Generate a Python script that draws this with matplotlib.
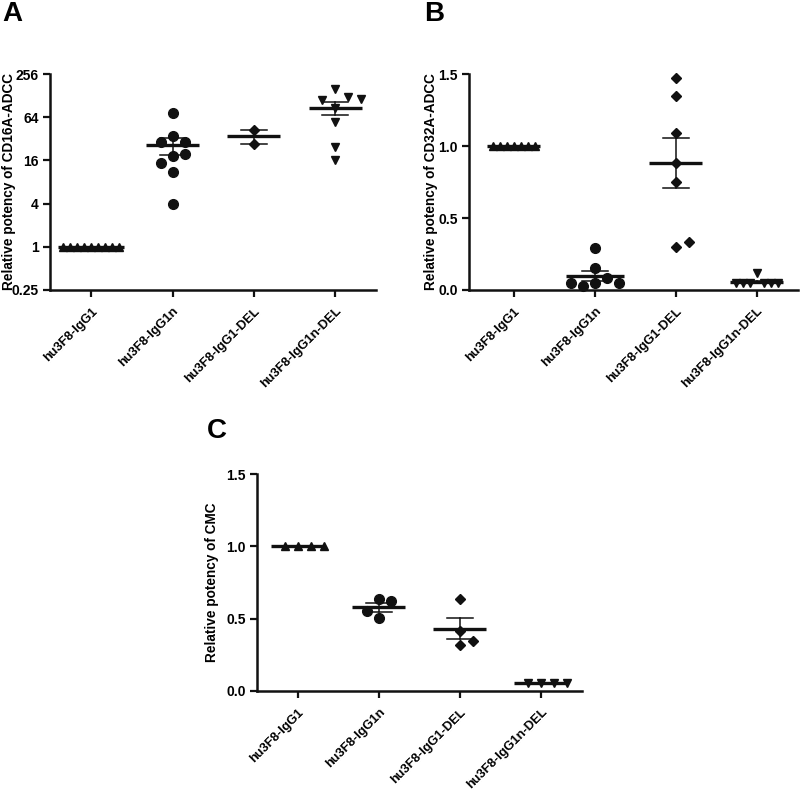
import numpy as np
import matplotlib
matplotlib.use("Agg")
import matplotlib.pyplot as plt
from matplotlib.ticker import FixedLocator, NullLocator

plt.rcParams['font.family'] = ['Liberation Sans', 'DejaVu Sans']
plt.rcParams['font.weight'] = 'bold'

# --- DATA ---
groups = ['hu3F8-IgG1', 'hu3F8-IgG1n', 'hu3F8-IgG1-DEL', 'hu3F8-IgG1n-DEL']

# panel A: relative potency of CD16A-ADCC (log2 axis)
cd16a_igg1 = [1, 1, 1, 1, 1, 1, 1, 1, 1]
cd16a_igg1n = [72.5, 34.7, 28.9, 28.9, 18.3, 19.4, 14.8, 11.0, 4.0]
cd16a_igg1_del = [42.5, 26.8]
cd16a_igg1n_del = [156.7, 123.6, 111.4, 114.8, 85.1, 54.3, 24.9, 16.2]

# panel B: relative potency of CD32A-ADCC
cd32a_igg1 = [1, 1, 1, 1, 1, 1, 1]
cd32a_igg1n = [0.29, 0.15, 0.08, 0.05, 0.025, 0.05, 0.05]
cd32a_igg1_del = [1.47, 1.35, 1.09, 0.88, 0.75, 0.30, 0.33]
cd32a_igg1n_del = [0.115, 0.046, 0.046, 0.046, 0.046, 0.046, 0.046]

# panel C: relative potency of CMC
cmc_igg1 = [1, 1, 1, 1]
cmc_igg1n = [0.637, 0.625, 0.507, 0.551]
cmc_igg1_del = [0.637, 0.417, 0.316, 0.346]
cmc_igg1n_del = [0.053, 0.053, 0.053, 0.053]

log_ticks = [0.25, 1, 4, 16, 64, 256]
log_tick_labels = ['0.25', '1', '4', '16', '64', '256']
lin_ticks = [0.0, 0.5, 1.0, 1.5]
lin_tick_labels = ['0.0', '0.5', '1.0', '1.5']

# marker style per group: (marker, size in pt, swarm spacing in px)
styles = [('^', 6.0, 13.0), ('o', 7.0, 12.0), ('D', 4.8, 13.0), ('v', 6.2, 13.0)]
INK = '#111111'

fig = plt.figure(figsize=(8, 7.9), dpi=100)
W, H = 800, 790


def add_axes_px(left, top, right, bottom):
    return fig.add_axes([left / W, 1 - bottom / H, (right - left) / W, (bottom - top) / H])


def swarm_offsets(ax, x0, vals, d):
    # place points one by one, sliding sideways until they clear the others (pixel space)
    pts = ax.transData.transform(np.column_stack([np.full(len(vals), x0), vals]))
    ys = pts[:, 1]
    placed = []
    offs = []
    steps = [0]
    for k in range(1, 40):
        steps += [k, -k]
    for y in ys:
        for k in steps:
            ox = k * d / 2.0
            if all((ox - px) ** 2 + (y - py) ** 2 >= (d * 0.98) ** 2 for px, py in placed):
                break
        placed.append((ox, y))
        offs.append(ox)
    offs = np.array(offs)
    # crowded rows get squeezed so the column stays narrow
    if offs.max() - offs.min() > 55:
        offs = offs * 7.0 / d
    return offs


def draw_panel(ax, data):
    px_per_x = ax.transData.transform((1, 1))[0] - ax.transData.transform((0, 1))[0]
    for i, vals in enumerate(data):
        vals = np.asarray(vals, dtype=float)
        marker, ms, d = styles[i]
        offs = swarm_offsets(ax, i, vals, d)
        ax.plot(i + offs / px_per_x, vals, linestyle='none', marker=marker, ms=ms,
                color=INK, mec=INK, clip_on=False, zorder=3)
        mean = vals.mean()
        sem = vals.std(ddof=1) / np.sqrt(len(vals)) if len(vals) > 1 else 0.0
        span = offs.max() - offs.min()
        half = max(26.5, span / 2 + 5) / px_per_x
        ax.plot([i - half, i + half], [mean, mean], color=INK, lw=2.4, zorder=4,
                solid_capstyle='butt', clip_on=False)
        if sem > 0:
            cap = 13 / px_per_x
            ax.plot([i, i], [mean - sem, mean + sem], color=INK, lw=1.1, zorder=4)
            for yy in (mean - sem, mean + sem):
                ax.plot([i - cap, i + cap], [yy, yy], color=INK, lw=1.1, zorder=4)


def style_axes(ax, xlim, ylabel, label_x):
    ax.set_xlim(*xlim)
    for s in ('top', 'right'):
        ax.spines[s].set_visible(False)
    for s in ('left', 'bottom'):
        ax.spines[s].set_linewidth(1.8)
        ax.spines[s].set_color(INK)
    ax.set_xticks(range(len(groups)))
    ax.set_xticklabels(groups, rotation=45, ha='right', va='top', rotation_mode='anchor',
                       fontsize=9.3, fontweight='bold')
    ax.tick_params(axis='both', direction='out', length=5, width=1.6, color=INK, pad=3)
    ax.tick_params(axis='y', labelsize=10)
    ax.tick_params(axis='x', pad=6)
    ax.yaxis.set_minor_locator(NullLocator())
    ax.set_ylabel(ylabel, fontsize=9.8, fontweight='bold')
    ax.yaxis.set_label_coords(label_x, 0.5)


# panel A
axA = add_axes_px(50, 74, 376, 290)
axA.set_yscale('log', base=2)
axA.set_ylim(0.25, 256)
axA.yaxis.set_major_locator(FixedLocator(log_ticks))
axA.set_yticklabels(log_tick_labels)
style_axes(axA, (-0.506, 3.5), 'Relative potency of CD16A-ADCC', -0.104)
draw_panel(axA, [cd16a_igg1, cd16a_igg1n, cd16a_igg1_del, cd16a_igg1n_del])

# panel B
axB = add_axes_px(469, 74, 798, 290)
axB.set_ylim(0, 1.5)
axB.yaxis.set_major_locator(FixedLocator(lin_ticks))
axB.set_yticklabels(lin_tick_labels)
style_axes(axB, (-0.556, 3.51), 'Relative potency of CD32A-ADCC', -0.093)
draw_panel(axB, [cd32a_igg1, cd32a_igg1n, cd32a_igg1_del, cd32a_igg1n_del])

# panel C
axC = add_axes_px(257, 474, 582, 691)
axC.set_ylim(0, 1.5)
axC.yaxis.set_major_locator(FixedLocator(lin_ticks))
axC.set_yticklabels(lin_tick_labels)
style_axes(axC, (-0.5, 3.506), 'Relative potency of CMC', -0.116)
draw_panel(axC, [cmc_igg1, cmc_igg1n, cmc_igg1_del, cmc_igg1n_del])

# panel letters
fig.text(2 / W, 1 - 1 / H, 'A', fontsize=20, fontweight='bold', va='top', ha='left')
fig.text(424 / W, 1 - 1 / H, 'B', fontsize=20, fontweight='bold', va='top', ha='left')
fig.text(207 / W, 1 - 418 / H, 'C', fontsize=20, fontweight='bold', va='top', ha='left')

fig.savefig('out.png', dpi=100)
